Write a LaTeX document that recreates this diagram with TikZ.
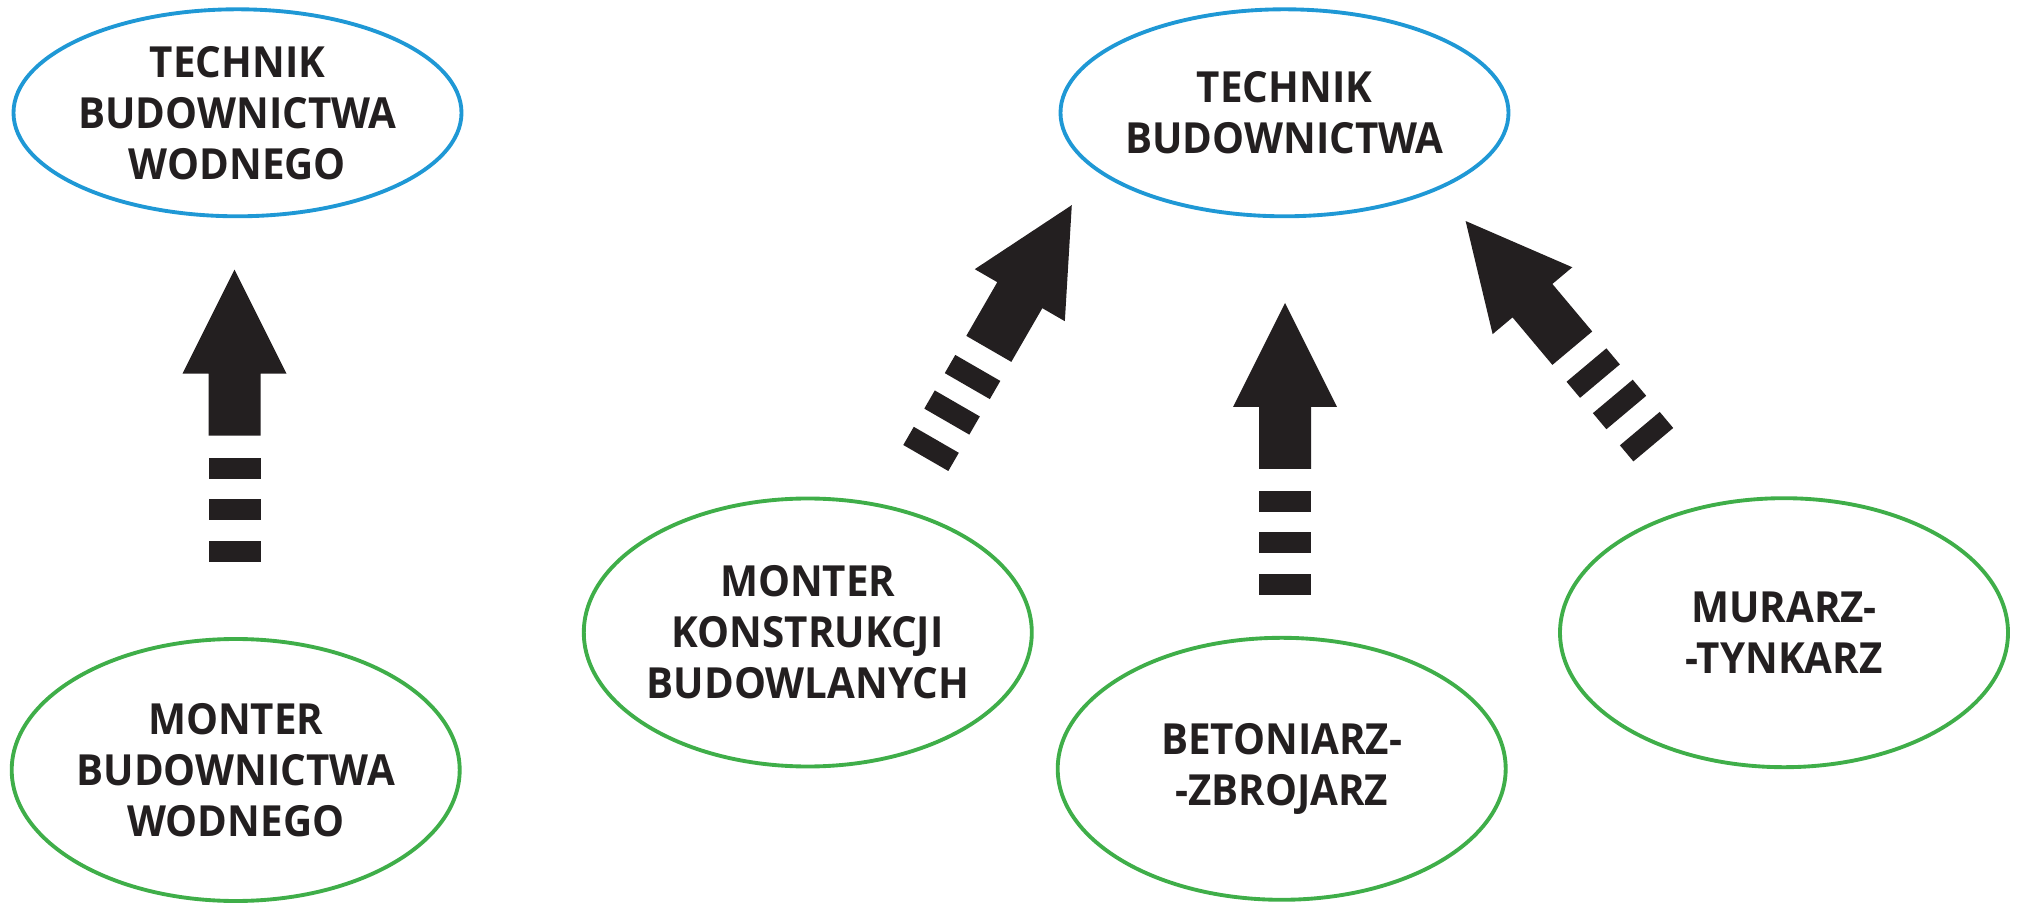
\documentclass[tikz,border=0pt]{standalone}
\usepackage{fontspec}
\setmainfont{Open Sans}[FakeStretch=0.94]
\usetikzlibrary{shapes.geometric}
\definecolor{techblue}{RGB}{31,152,213}
\definecolor{trgreen}{RGB}{63,174,73}
\definecolor{ink}{RGB}{35,31,32}

\begin{document}
\begin{tikzpicture}[
		job/.style={ellipse, draw, line width=1.1pt, inner xsep=-1cm, inner ysep=0pt, align=center, text=ink,
			font=\fontsize{12.2}{14.5}\selectfont\bfseries, minimum width=4.48cm},
		technik/.style={job, draw=techblue, minimum height=2.07cm},
		zawod/.style={job, draw=trgreen, minimum height=2.62cm},
		fatarrow/.pic={
			\foreach \d in {0,0.42,0.83}
				\fill[ink] (\d,-0.26) -- ++(0.21,0) -- ++(0,0.52) -- ++(-0.21,0) -- cycle;
			\fill[ink] (1.26,-0.26) -- (1.88,-0.26) -- (1.88,-0.52) -- (2.92,0)
				-- (1.88,0.52) -- (1.88,0.26) -- (1.26,0.26) -- cycle;
		}]
		%%%%% START %%%%%
		\useasboundingbox (0,0) rectangle (20.2,9.03);
		
		\node[technik] (tbw) at (2.375, 7.902) {TECHNIK\\BUDOWNICTWA\\WODNEGO};
		\node[technik] (tb) at (12.845, 7.902) {TECHNIK\\BUDOWNICTWA};
		
		\node[zawod] (mbw) at (2.357, 1.33) {MONTER\\BUDOWNICTWA\\WODNEGO};
		\node[zawod, minimum height=2.68cm] (mkb) at (8.078, 2.705) {MONTER\\KONSTRUKCJI\\BUDOWLANYCH};
		\node[zawod] (bz) at (12.817, 1.342) {BETONIARZ-\\-ZBROJARZ};
		\node[zawod, minimum height=2.69cm] (mt) at (17.84, 2.703) {MURARZ-\\-TYNKARZ};
		
		% tails of the block arrows
		\coordinate (mbw-tail) at (2.345, 3.413);
		\coordinate (mkb-tail) at (9.258, 4.45);
		\coordinate (bz-tail) at (12.85, 3.08);
		\coordinate (mt-tail) at (16.533, 4.583);
		
		\pic[rotate=90] at (mbw-tail) {fatarrow};
		\pic[rotate=60] at (mkb-tail) {fatarrow};
		\pic[rotate=90] at (bz-tail) {fatarrow};
		\pic[rotate=130] at (mt-tail) {fatarrow};
		%%%%% END %%%%%
\end{tikzpicture}
\end{document}
